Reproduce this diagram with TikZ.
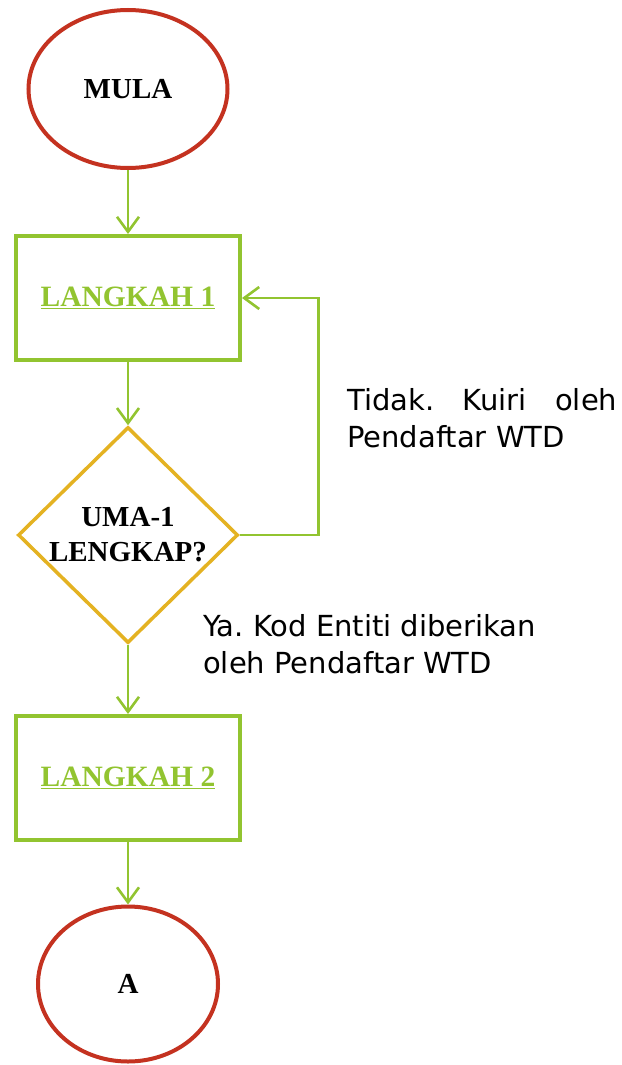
\documentclass[tikz,border=0pt]{standalone}
\usepackage{fontspec}
\setmainfont{Liberation Serif}
\newfontfamily\notefont{DejaVu Sans}
\usetikzlibrary{shapes.geometric,arrows.meta}
\frenchspacing

\definecolor{startred}{RGB}{196,50,32}
\definecolor{stepgreen}{RGB}{146,196,48}
\definecolor{askgold}{RGB}{228,178,34}

\begin{document}
\begin{tikzpicture}[x=1pt,y=-1pt,
    terminal/.style={ellipse,draw=startred,line width=4pt,inner sep=0pt,
      font=\fontsize{29}{34}\selectfont\bfseries},
    stepbox/.style={rectangle,draw=stepgreen,line width=4pt,text=stepgreen,
      minimum width=224pt,minimum height=124pt,
      font=\fontsize{29.5}{34}\selectfont\bfseries},
    ask/.style={diamond,draw=askgold,line width=3.5pt,inner sep=0pt,align=center,
      minimum width=220pt,minimum height=216pt,
      font=\fontsize{29}{35}\selectfont\bfseries},
    flow/.style={draw=stepgreen,line width=2.6pt,
      -{Straight Barb[length=15pt,width=22pt]}},
    note/.style={inner sep=0pt,font=\notefont\fontsize{29}{37}\selectfont}]
  \fill[white] (0,0) rectangle (621,1065);  % page

  \node[terminal,minimum width=199pt,minimum height=158pt] (mula) at (128,89) {MULA};
  \node[stepbox] (step1) at (128,298) {\underline{LANGKAH 1}};
  \node[ask] (lengkap) at (128,535) {UMA-1\\LENGKAP?};
  \node[stepbox] (step2) at (128,778) {\underline{LANGKAH 2}};
  \node[terminal,minimum width=180pt,minimum height=155pt] (enda) at (128,984) {A};

  \draw[flow] (mula) -- (step1);
  \draw[flow] (step1) -- (lengkap);
  \draw[flow] (lengkap) -- (step2);
  \draw[flow] (step2) -- (enda);
  \draw[flow] (lengkap.east) -- ++(79,0) |- (step1.east);  % back to step 1

  \node[note,text width=270pt,align=justify,anchor=north west] (tidak) at (347,388)
    {Tidak. Kuiri oleh Pendaftar WTD};
  \node[note,align=left,anchor=north west] (ya) at (203,614)
    {Ya. Kod Entiti diberikan\\oleh Pendaftar WTD};
\end{tikzpicture}
\end{document}
